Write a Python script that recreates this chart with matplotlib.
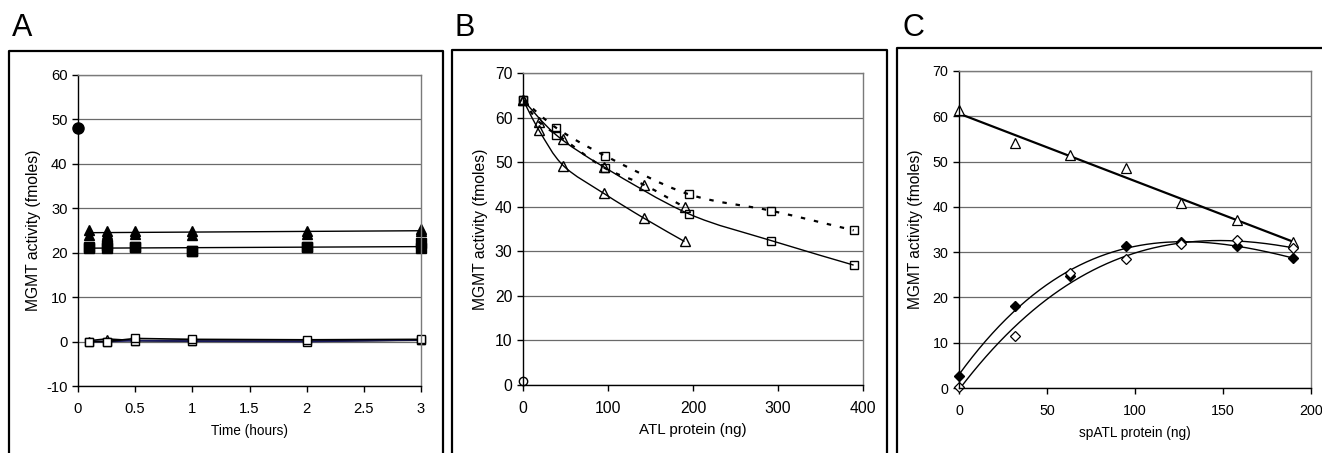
import numpy as np
import matplotlib
matplotlib.use("Agg")
import matplotlib.pyplot as plt
from matplotlib.path import Path
from matplotlib.patches import PathPatch
from matplotlib.lines import Line2D

plt.rcParams['font.family'] = ['Liberation Sans', 'DejaVu Sans']
plt.rcParams['axes.unicode_minus'] = False

# ---- panel A : time course ----
time_h = [0.1, 0.25, 0.5, 1, 2, 3]
a_start = 48.0
a_tri_1 = [25.2, 25.0, 25.0, 25.0, 25.0, 25.4]
a_tri_2 = [24.0, 24.3, 24.1, 24.0, 24.1, 24.9]
a_sq_1 = [21.0, 21.0, 21.2, 20.4, 21.2, 21.0]
a_sq_2 = [21.2, 21.8, 21.2, 20.4, 21.2, 22.2]
a_open_sq = [0.0, 0.0, 0.7, 0.5, 0.4, 0.5]
a_open_sq_2 = [0.0, 0.0, 0.2, 0.1, 0.0, 0.4]
a_open_tri = [0.2, 0.6, 0.2, 0.1, 0.1, 0.3]

# ---- panel B : ATL titration ----
b_blank = 1.0
b_tri_x = [0, 19, 47.5, 95, 142.5, 190]
b_tri_solid = [64, 57.1, 49.2, 43.0, 37.4, 32.2]
b_tri_dot = [64, 59.0, 55.2, 48.8, 44.9, 39.9]
b_sq_x = [0, 39, 97, 195, 292, 389]
b_sq_dot = [64, 57.7, 51.4, 42.8, 39.1, 34.7]
b_sq_solid = [64, 56.1, 48.7, 38.4, 32.4, 26.9]

# ---- panel C : spATL titration ----
c_x = [0, 31.6, 63.2, 94.8, 126.4, 158, 189.6]
c_tri = [61.3, 54.0, 51.4, 48.6, 40.8, 37.0, 32.2]
c_dia_filled = [2.7, 18.0, 24.8, 31.4, 32.3, 31.3, 28.7]
c_dia_open = [0.2, 11.5, 25.5, 28.4, 31.7, 32.6, 31.0]

W, H = 1322, 453
fig = plt.figure(figsize=(W / 100, H / 100), dpi=100)


def style_axes(ax, fs):
    for s in ['left', 'bottom']:
        ax.spines[s].set_color('black')
        ax.spines[s].set_linewidth(1.0)
    for s in ['top', 'right']:
        ax.spines[s].set_color('#7a7a7a')
        ax.spines[s].set_linewidth(1.0)
    ax.yaxis.grid(True, color='#6a6a6a', linewidth=0.9)
    ax.set_axisbelow(True)
    ax.tick_params(direction='out', length=4.5, width=1, labelsize=fs, pad=3)
    ax.tick_params(axis='x', pad=7)


def smooth_line(ax, x, y, xr, yr, **kw):
    # Excel style smoothed line (Catmull-Rom bezier) in axis-normalised space
    p = np.column_stack([np.asarray(x, float) / xr, np.asarray(y, float) / yr])
    verts = [p[0]]
    codes = [Path.MOVETO]
    n = len(p)
    for i in range(n - 1):
        p0 = p[i - 1] if i > 0 else p[i]
        p3 = p[i + 2] if i + 2 < n else p[i + 1]
        c1 = p[i] + (p[i + 1] - p0) / 6
        c2 = p[i + 1] - (p3 - p[i]) / 6
        verts += [c1, c2, p[i + 1]]
        codes += [Path.CURVE4] * 3
    verts = np.array(verts) * [xr, yr]
    ax.add_patch(PathPatch(Path(verts, codes), fill=False, **kw))


def frame(x0, x1, top):
    l, r, t = x0 / W, x1 / W, 1 - top / H
    fig.add_artist(Line2D([l, l, r, r], [0, t, t, 0], color='black', lw=1.6))


frame(9, 443, 51)
frame(452, 887, 50)
frame(897, 1340, 48)

fig.text(12 / W, 1 - 36 / H, 'A', fontsize=22)
fig.text(454 / W, 1 - 36 / H, 'B', fontsize=22)
fig.text(903 / W, 1 - 36 / H, 'C', fontsize=22)

# ---------------- A ----------------
axA = fig.add_axes([78 / W, (H - 386) / H, 343 / W, 311 / H])
style_axes(axA, 10.6)
t = np.array(time_h)
tri_all = np.concatenate([a_tri_1, a_tri_2])
sq_all = np.concatenate([a_sq_1, a_sq_2])
kt = np.polyfit(np.concatenate([t, t]), tri_all, 1)
ks = np.polyfit(np.concatenate([t, t]), sq_all, 1)
axA.plot(t, np.polyval(kt, t), color='black', lw=1.0)
axA.plot(t, np.polyval(ks, t), color='black', lw=1.0)
axA.plot(t, a_tri_1, '^', color='black', ms=7, ls='none', clip_on=False)
axA.plot(t, a_tri_2, '^', color='black', ms=7, ls='none', clip_on=False)
axA.plot(t, a_sq_1, 's', color='black', ms=6.5, ls='none', clip_on=False)
axA.plot(t, a_sq_2, 's', color='black', ms=6.5, ls='none', clip_on=False)
axA.plot(t, a_open_tri, '-^', color='black', mfc='white', ms=6, lw=1.2, clip_on=False)
axA.plot(t, a_open_sq_2, '-s', color='#1a1a60', mfc='white', mec='black', ms=6, lw=1.2, clip_on=False)
axA.plot(t, a_open_sq, '-s', color='black', mfc='white', ms=6, lw=1.2, clip_on=False)
axA.plot([0], [a_start], 'o', color='black', ms=8, clip_on=False)
axA.set_xlim(0, 3)
axA.set_ylim(-10, 60)
axA.set_xticks([0, 0.5, 1, 1.5, 2, 2.5, 3])
axA.set_xticklabels(['0', '0.5', '1', '1.5', '2', '2.5', '3'])
axA.set_yticks(range(-10, 61, 10))
axA.set_xlabel('Time (hours)', fontsize=9.8, labelpad=6)
axA.set_ylabel('MGMT activity (fmoles)', fontsize=11.3, labelpad=4)

# ---------------- B ----------------
axB = fig.add_axes([523 / W, (H - 385) / H, 340 / W, 312 / H])
style_axes(axB, 11.3)
smooth_line(axB, b_tri_x, b_tri_solid, 400, 70, color='black', lw=1.0)
smooth_line(axB, b_sq_x, b_sq_solid, 400, 70, color='black', lw=1.0)
smooth_line(axB, b_tri_x, b_tri_dot, 400, 70, color='black', lw=1.6, ls=(0, (2, 4)))
smooth_line(axB, b_sq_x, b_sq_dot, 400, 70, color='black', lw=1.6, ls=(0, (2, 4)))
for ys in (b_tri_solid, b_tri_dot):
    axB.plot(b_tri_x, ys, '^', color='black', mfc='none', ms=7, mew=1.0, ls='none', clip_on=False)
for ys in (b_sq_solid, b_sq_dot):
    axB.plot(b_sq_x, ys, 's', color='black', mfc='none', ms=6, mew=1.0, ls='none', clip_on=False)
axB.plot([0], [b_blank], 'o', color='black', mfc='white', ms=6, clip_on=False)
axB.set_xlim(0, 400)
axB.set_ylim(0, 70)
axB.set_xticks(range(0, 401, 100))
axB.set_yticks(range(0, 71, 10))
axB.set_xlabel('ATL protein (ng)', fontsize=10.9, labelpad=5)
axB.set_ylabel('MGMT activity (fmoles)', fontsize=11.3, labelpad=5)

# ---------------- C ----------------
axC = fig.add_axes([959 / W, (H - 388) / H, 352 / W, 317 / H])
style_axes(axC, 10.3)
cx = np.array(c_x)
kl = np.polyfit(cx, c_tri, 1)
kf = np.polyfit(cx, c_dia_filled, 3)
ko = np.polyfit(cx, c_dia_open, 3)
xs = np.linspace(cx[0], cx[-1], 200)
axC.plot(xs, np.polyval(kl, xs), color='black', lw=1.6)
axC.plot(xs, np.polyval(kf, xs), color='black', lw=1.0)
axC.plot(xs, np.polyval(ko, xs), color='black', lw=1.0)
axC.plot(cx, c_tri, '^', color='black', mfc='white', ms=6.5, mew=0.9, ls='none', clip_on=False)
axC.plot(cx, c_dia_filled, 'D', color='black', ms=5, ls='none', clip_on=False)
axC.plot(cx, c_dia_open, 'D', color='black', mfc='white', ms=5, mew=0.9, ls='none', clip_on=False)
axC.set_xlim(0, 200)
axC.set_ylim(0, 70)
axC.set_xticks(range(0, 201, 50))
axC.set_yticks(range(0, 71, 10))
axC.set_xlabel('spATL protein (ng)', fontsize=9.8, labelpad=6)
axC.set_ylabel('MGMT activity (fmoles)', fontsize=11.2, labelpad=7)

fig.savefig('out.png', dpi=100)
